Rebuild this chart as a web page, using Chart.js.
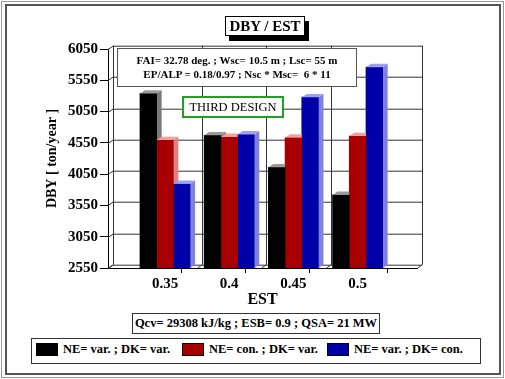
<!DOCTYPE html>
<html>
<head>
<meta charset="utf-8">
<script src="https://cdn.jsdelivr.net/npm/chart.js@4/dist/chart.umd.min.js"></script>
<style>
html,body{margin:0;padding:0;background:#fff;}
#wrap{position:relative;width:505px;height:379px;overflow:hidden;font-family:"Liberation Serif","Times New Roman",serif;color:#000;}
canvas{position:absolute;left:0;top:0;}
.frame1{position:absolute;left:1px;top:1px;width:501px;height:375px;border:1px solid #999;}
.frame2{position:absolute;left:5px;top:4px;width:492px;height:367px;border:2px solid #555;}
.box{position:absolute;background:#fff;box-sizing:border-box;text-align:center;font-weight:bold;white-space:nowrap;}
#legend{position:absolute;left:31px;top:338px;width:450px;height:26px;border:1px solid #333;box-sizing:border-box;background:#fff;}
.li{position:absolute;top:3px;height:14px;display:flex;align-items:center;font-weight:bold;font-size:12.5px;white-space:nowrap;}
.sw{width:22px;height:13px;box-sizing:border-box;border:1px solid #000;margin-right:5px;}
</style>
</head>
<body>
<div id="wrap">
  <div class="frame1"></div>
  <div class="frame2"></div>
  <canvas id="c" width="505" height="379"></canvas>
  <div class="box" style="left:225px;top:16px;width:80px;height:20px;border:1px solid #000;box-shadow:4px 5px 0 #000;font-size:15px;line-height:18px;">DBY / EST</div>
  <div class="box" style="left:117px;top:48px;width:240px;height:39px;border:1px solid #555;font-size:11px;line-height:13.5px;padding-top:5px;">FAI= 32.78 deg. ; Wsc= 10.5 m ; Lsc= 55 m<br>EP/ALP = 0.18/0.97 ; Nsc * Msc=&nbsp; 6 * 11</div>
  <div class="box" style="left:182px;top:96px;width:102px;height:22px;border:2px solid #22a022;font-size:12.5px;line-height:18px;font-weight:normal;">THIRD DESIGN</div>
  <div class="box" style="left:132px;top:313px;width:248px;height:21px;border:1px solid #333;font-size:12.5px;line-height:19px;">Qcv= 29308 kJ/kg ; ESB= 0.9 ; QSA= 21 MW</div>
  <div id="legend"></div>
</div>
<script>
// ---- data ----
const categories = ['0.35', '0.4', '0.45', '0.5'];
const seriesLabels = ['NE= var. ; DK= var.', 'NE= con. ; DK= var.', 'NE= var. ; DK= con.'];
const neVarDkVar = [5340, 4670, 4160, 3720];
const neConDkVar = [4595, 4645, 4635, 4660];
const neVarDkCon = [3895, 4685, 5280, 5760];
const yTicks = [2550, 3050, 3550, 4050, 4550, 5050, 5550, 6050];

// ---- styles ----
const FONT = '"Liberation Serif", "Times New Roman", serif';
const frontColors = ['#000000', '#a80000', '#0000a8'];
const sideColors = ['#7a7a7a', '#e08080', '#8080e0'];
const topColors = ['#9a9a9a', '#f0a0a0', '#a0a0f0'];
const DX = 5, DY = -3.3;
const GRID = '#333';

const seriesValues = [neVarDkVar, neConDkVar, neVarDkCon];

function line(ctx, x1, y1, x2, y2) {
  ctx.beginPath(); ctx.moveTo(x1, y1); ctx.lineTo(x2, y2); ctx.stroke();
}
function poly(ctx, pts, fill) {
  ctx.beginPath(); ctx.moveTo(pts[0][0], pts[0][1]);
  for (let i = 1; i < pts.length; i++) ctx.lineTo(pts[i][0], pts[i][1]);
  ctx.closePath(); ctx.fillStyle = fill; ctx.fill();
}

const threeD = {
  id: 'threeD',
  beforeDatasetsDraw(chart) {
    const {ctx, chartArea: a, scales: {x, y}} = chart;
    ctx.save();
    ctx.strokeStyle = GRID; ctx.lineWidth = 1;
    y.ticks.forEach(t => {
      const py = Math.round(y.getPixelForValue(t.value)) + 0.5;
      line(ctx, a.left + DX, py + DY, a.right + DX, py + DY);
      line(ctx, a.left, py, a.left + DX, py + DY);
    });
    x.ticks.forEach(t => {
      if (Number.isInteger(t.value)) return;
      const px = Math.round(x.getPixelForValue(t.value)) + 0.5;
      line(ctx, px + DX, a.bottom + DY, px + DX, a.top + DY);
      line(ctx, px, a.bottom, px + DX, a.bottom + DY);
    });
    chart.data.datasets.forEach((ds, di) => {
      const meta = chart.getDatasetMeta(di);
      meta.data.forEach(bar => {
        const R = bar.x + bar.width / 2, T = bar.y, B = Math.min(bar.base, a.bottom);
        poly(ctx, [[R, T], [R + DX, T + DY], [R + DX, B + DY], [R, B]], sideColors[di]);
      });
    });
    ctx.restore();
  },
  afterDatasetsDraw(chart) {
    const {ctx} = chart;
    ctx.save();
    const n = chart.data.datasets.length;
    chart.data.datasets.forEach((ds, di) => {
      const meta = chart.getDatasetMeta(di);
      meta.data.forEach((bar, i) => {
        const L = bar.x - bar.width / 2, R = bar.x + bar.width / 2, T = bar.y;
        const next = di + 1 < n ? chart.getDatasetMeta(di + 1).data[i] : null;
        if (next && next.y < T) {
          poly(ctx, [[L, T], [L + DX, T + DY], [R, T + DY], [R, T]], topColors[di]);
        } else {
          poly(ctx, [[L, T], [L + DX, T + DY], [R + DX, T + DY], [R, T]], topColors[di]);
        }
      });
    });
    ctx.restore();
  }
};

const chart = new Chart(document.getElementById('c'), {
  type: 'bar',
  data: {
    datasets: seriesValues.map((vals, di) => ({
      label: seriesLabels[di],
      data: categories.map((c, i) => ({x: i, y: vals[i]})),
      backgroundColor: frontColors[di],
      borderWidth: 0
    }))
  },
  options: {
    responsive: false,
    animation: false,
    devicePixelRatio: 1,
    layout: {padding: {left: 0, top: 49, right: 88, bottom: 70}},
    plugins: {legend: {display: false}, tooltip: {enabled: false}},
    datasets: {bar: {barThickness: 16.7, grouped: true}},
    scales: {
      x: {
        type: 'linear',
        offset: false,
        min: -0.888,
        max: 3.925,
        afterFit(s) { s.height = 41; },
        afterBuildTicks(s) {
          s.ticks = [s.min, 0, 0.5, 1, 1.5, 2, 2.5, 3, s.max].map(v => ({value: v}));
        },
        ticks: {
          autoSkip: false, maxRotation: 0, padding: 2, color: '#000',
          font: {family: FONT, size: 15, weight: 'bold'},
          callback: v => Number.isInteger(v) ? categories[v] : ''
        },
        grid: {
          drawOnChartArea: false, drawTicks: true, tickLength: 5,
          color: c => (c.tick && Number.isInteger(c.tick.value)) ? 'rgba(0,0,0,0)' : '#000',
          tickColor: c => (c.tick && Number.isInteger(c.tick.value)) ? 'rgba(0,0,0,0)' : '#000'
        },
        border: {display: true, color: '#000'},
        title: {display: true, text: 'EST', color: '#000', font: {family: FONT, size: 16, weight: 'bold'}, padding: {top: 0, bottom: 0}}
      },
      y: {
        min: 2550,
        max: 6050,
        afterFit(s) { s.width = 108; },
        afterBuildTicks(s) { s.ticks = yTicks.map(v => ({value: v})); },
        ticks: {color: '#000', padding: 2, font: {family: FONT, size: 15, weight: 'bold'}, callback: v => String(v)},
        grid: {drawOnChartArea: false, drawTicks: true, tickLength: 8, color: '#000'},
        border: {display: true, color: '#000'},
        title: {display: true, text: 'DBY [ ton/year ]', color: '#000', font: {family: FONT, size: 14, weight: 'bold'}, padding: {top: 43.6, bottom: 0}}
      }
    }
  },
  plugins: [threeD]
});

const leg = document.getElementById('legend');
const lefts = [4, 150, 295];
chart.data.datasets.forEach((ds, i) => {
  const d = document.createElement('div');
  d.className = 'li';
  d.style.left = lefts[i] + 'px';
  const sw = document.createElement('span');
  sw.className = 'sw';
  sw.style.background = ds.backgroundColor;
  const tx = document.createElement('span');
  tx.textContent = ds.label;
  d.appendChild(sw); d.appendChild(tx);
  leg.appendChild(d);
});
</script>
</body>
</html>
